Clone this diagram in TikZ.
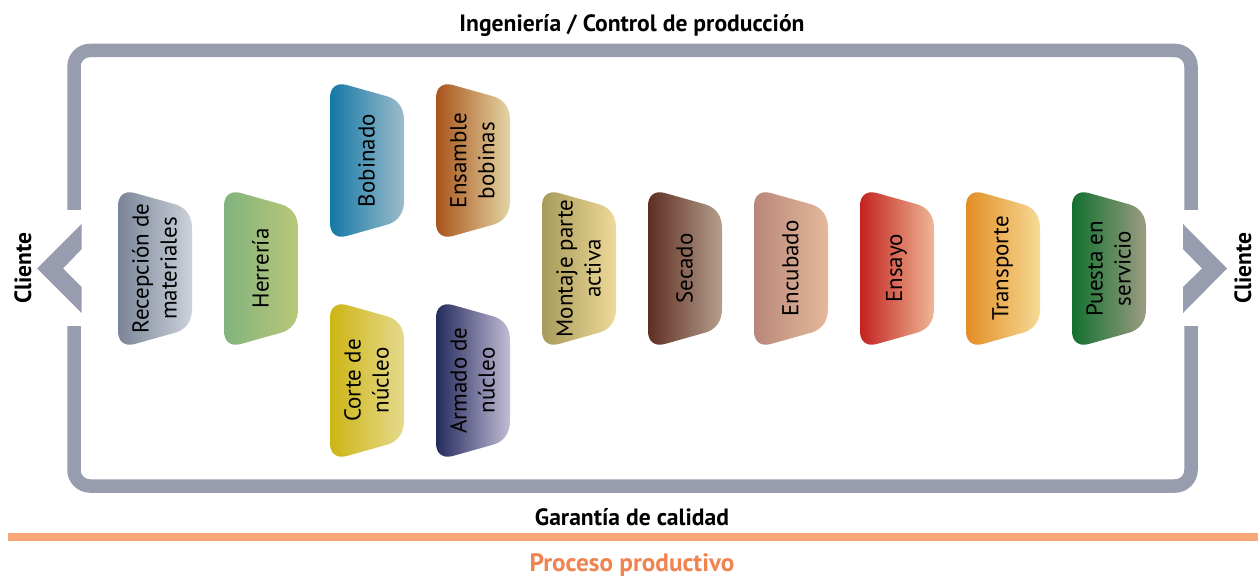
\documentclass[tikz,border=0pt]{standalone}
\usepackage{fontspec}
\setmainfont{PT Sans}
\newcommand{\blocktext}{\fontsize{23}{28}\selectfont}
\definecolor{framegray}{HTML}{979CAE}
\definecolor{barorange}{HTML}{F8A776}
\definecolor{procorange}{HTML}{F0834F}
\definecolor{recL}{HTML}{7A8598}\definecolor{recR}{HTML}{CDD2DA}
\definecolor{herL}{HTML}{82B37E}\definecolor{herR}{HTML}{B9C777}
\definecolor{bobL}{HTML}{1478A6}\definecolor{bobR}{HTML}{9DBCCB}
\definecolor{ensL}{HTML}{A9541B}\definecolor{ensR}{HTML}{E3D5A5}
\definecolor{corL}{HTML}{CDB514}\definecolor{corR}{HTML}{E5DA8E}
\definecolor{armL}{HTML}{232A5C}\definecolor{armR}{HTML}{C4BCD6}
\definecolor{monL}{HTML}{A79A5A}\definecolor{monR}{HTML}{EEDA9A}
\definecolor{secL}{HTML}{5E2E22}\definecolor{secR}{HTML}{B59F8D}
\definecolor{encL}{HTML}{B9877A}\definecolor{encR}{HTML}{E5B99B}
\definecolor{ensyL}{HTML}{C4221F}\definecolor{ensyR}{HTML}{EEB795}
\definecolor{traL}{HTML}{E38D24}\definecolor{traR}{HTML}{F5DA95}
\definecolor{pueL}{HTML}{12702F}\definecolor{pueR}{HTML}{9C9C82}
\tikzset{
  x=1pt,y=-1pt,
  framebar/.style={draw=framegray,line width=13.5pt,rounded corners=16pt},
  chevron/.style={fill=framegray,draw=none},
  blocklabel/.style={rotate=90,align=center,text=black,inner sep=0pt,font=\blocktext},
  sidelabel/.style={rotate=90,font=\fontsize{23.5}{26}\selectfont\bfseries,inner sep=0pt,text=black},
  headlabel/.style={font=\fontsize{23.6}{26}\selectfont\bfseries,inner sep=0pt,text=black},
  proclabel/.style={font=\fontsize{25.2}{28}\selectfont\bfseries,inner sep=0pt,text=procorange},
  bar/.style={fill=barorange,draw=none},
}
% #1 x, #2 y, #3 colour prefix, #4 name, #5 text
\newcommand{\block}[5]{%
  \shade[left color=#3L,right color=#3R]
    (#1+0,#2+14) .. controls (#1+0,#2+4) and (#1+6,#2-1.5) .. (#1+16,#2+0.8)
    -- (#1+56,#2+12) .. controls (#1+68,#2+15) and (#1+74,#2+24) .. (#1+74,#2+36)
    -- (#1+74,#2+117) .. controls (#1+74,#2+129) and (#1+68,#2+138) .. (#1+56,#2+141)
    -- (#1+16,#2+152.2) .. controls (#1+6,#2+154.5) and (#1+0,#2+149) .. (#1+0,#2+139) -- cycle;
  \node[blocklabel] (#4) at (#1+36.5,#2+76.5) {#5};
}
\begin{document}
\begin{tikzpicture}
\useasboundingbox (0,0) rectangle (1258,577);
\path[fill=white] (0,0) rectangle (1258,577);
% frame
\draw[framebar] (74,210) -- (74,50.5) -- (1191,50.5) -- (1191,210);
\draw[framebar] (74,326) -- (74,486) -- (1191,486) -- (1191,326);
\fill[chevron] (81.7,224) -- (37,268.5) -- (81.7,313) -- (81.7,287) -- (63,268.5) -- (81.7,249) -- cycle;
\fill[chevron] (1183,224) -- (1227,268.5) -- (1183,313) -- (1183,287) -- (1202,268.5) -- (1183,249) -- cycle;
% blocks
\block{118}{192}{rec}{rec}{Recepción de\\materiales}
\block{224}{192}{her}{her}{Herrería}
\block{330}{84}{bob}{bob}{Bobinado}
\block{436}{84}{ens}{ens}{Ensamble\\bobinas}
\block{330}{304}{cor}{cor}{Corte de\\núcleo}
\block{436}{304}{arm}{arm}{Armado de\\núcleo}
\block{542}{192}{mon}{mon}{Montaje parte\\activa}
\block{648}{192}{sec}{sec}{Secado}
\block{754}{192}{enc}{enc}{Encubado}
\block{860}{192}{ensy}{ensy}{Ensayo}
\block{966}{192}{tra}{tra}{Transporte}
\block{1072}{192}{pue}{pue}{Puesta en\\servicio}
% labels
\node[headlabel] (top) at (632,26) {Ingeniería / Control de producción};
\node[headlabel] (bot) at (632,517) {Garantía de calidad};
\node[sidelabel] (cl) at (23,268) {Cliente};
\node[sidelabel] (cr) at (1243,268) {Cliente};
\fill[bar] (8,533) rectangle (1258,541);
\node[proclabel] (proc) at (632,565.5) {Proceso productivo};
\end{tikzpicture}
\end{document}
